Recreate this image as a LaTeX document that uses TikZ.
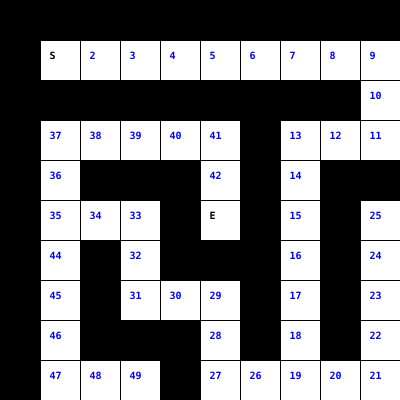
\documentclass[tikz,border=0pt]{standalone}
\usepackage{fontspec}
\setmonofont{DejaVu Sans Mono}
\begin{document}
\begin{tikzpicture}[x=1pt,y=1pt,
  cellbox/.style={fill=white,draw=none,inner sep=0pt,minimum width=39pt,minimum height=39pt,anchor=north west},
  numtxt/.style={font=\ttfamily\bfseries\fontsize{10}{10}\selectfont,text=numblue,inner sep=0pt,anchor=base west},
  endtxt/.style={font=\ttfamily\bfseries\fontsize{10}{10}\selectfont,text=black,inner sep=0pt,anchor=base west}]
\definecolor{numblue}{RGB}{0,0,255}
\useasboundingbox (0,0) rectangle (400,-400);
\fill[black] (0,0) rectangle (400,-400);
\foreach \c/\r/\t in {1/1/S,2/1/2,3/1/3,4/1/4,5/1/5,6/1/6,7/1/7,8/1/8,9/1/9,
  9/2/10,
  1/3/37,2/3/38,3/3/39,4/3/40,5/3/41,7/3/13,8/3/12,9/3/11,
  1/4/36,5/4/42,7/4/14,
  1/5/35,2/5/34,3/5/33,5/5/E,7/5/15,9/5/25,
  1/6/44,3/6/32,7/6/16,9/6/24,
  1/7/45,3/7/31,4/7/30,5/7/29,7/7/17,9/7/23,
  1/8/46,5/8/28,7/8/18,9/8/22,
  1/9/47,2/9/48,3/9/49,5/9/27,6/9/26,7/9/19,8/9/20,9/9/21}{
  \node[cellbox] (cell-\t) at ({40*\c+1},{-40*\r-1}) {};
}
\foreach \t in {S,E}{
  \node[endtxt] (lab-\t) at ([xshift=8.5pt,yshift=-18pt]cell-\t.north west) {\t};
}
\foreach \t in {2,...,49}{
  \ifnum\t=43\else
  \node[numtxt] (lab-\t) at ([xshift=8.5pt,yshift=-18pt]cell-\t.north west) {\t};
  \fi
}
\end{tikzpicture}
\end{document}
